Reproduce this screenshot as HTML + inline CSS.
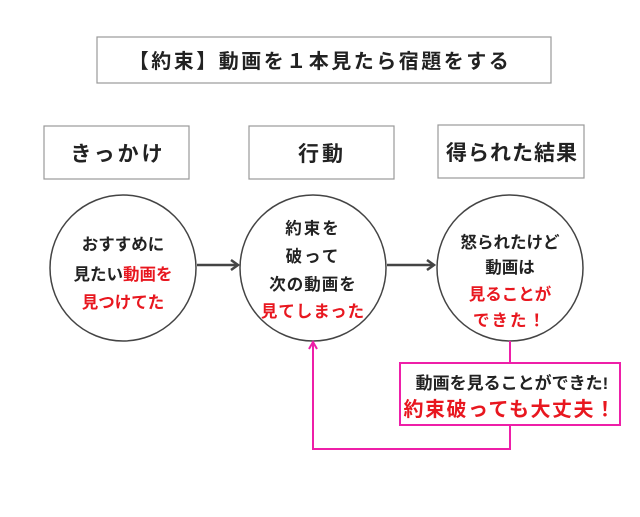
<!DOCTYPE html>
<html><head><meta charset="utf-8"><style>
body{margin:0;width:640px;height:512px;background:#fff;overflow:hidden;font-family:"Liberation Sans","Noto Sans CJK JP",sans-serif;}
</style></head><body>
<svg width="640" height="512" xmlns="http://www.w3.org/2000/svg" font-family="Liberation Sans, Noto Sans CJK JP, sans-serif" font-weight="bold" text-anchor="middle">
<rect x="97" y="37" width="454" height="46" fill="#fff" stroke="#999" stroke-width="1.2"/>
<text x="320" y="68" font-size="20" letter-spacing="2.5" fill="#222">【約束】動画を１本見たら宿題をする</text>
<g fill="#fff" stroke="#999" stroke-width="1.2">
<rect x="44" y="126" width="145" height="53"/>
<rect x="249" y="126" width="145" height="53"/>
<rect x="438" y="125" width="146" height="53"/>
</g>
<g font-size="21" fill="#222">
<text x="118" y="161" letter-spacing="3">きっかけ</text>
<text x="322" y="161" letter-spacing="3">行動</text>
<text x="512" y="160" letter-spacing="1">得られた結果</text>
</g>
<g fill="#fff" stroke="#444" stroke-width="1.5">
<ellipse cx="123" cy="268" rx="73" ry="73"/>
<ellipse cx="313" cy="268" rx="73" ry="73"/>
<ellipse cx="510" cy="268" rx="73" ry="73"/>
</g>
<g stroke="#444" stroke-width="2.5" fill="none">
<line x1="197" y1="265" x2="237" y2="265"/><polyline points="231,260 238,265 231,270"/>
<line x1="387" y1="265" x2="433" y2="265"/><polyline points="427,260 434,265 427,270"/>
</g>
<g font-size="16.5" fill="#222">
<text x="123" y="250">おすすめに</text>
<text x="123" y="280">見たい<tspan fill="#e8171f">動画を</tspan></text>
<text x="123" y="308" fill="#e8171f">見つけてた</text>
<text x="313" y="234" letter-spacing="2">約束を</text>
<text x="313" y="262" letter-spacing="2">破って</text>
<text x="313" y="290" letter-spacing="1">次の動画を</text>
<text x="313" y="317" letter-spacing="1">
<tspan fill="#e8171f">見てしまった</tspan></text>
<text x="510" y="248">怒られたけど</text>
<text x="510" y="273">動画は</text>
<text x="510" y="300" fill="#e8171f">見ることが</text>
<text x="510" y="326" fill="#e8171f" letter-spacing="2">できた！</text>
</g>
<g stroke="#ee1fa8" stroke-width="2" fill="none">
<line x1="510" y1="341" x2="510" y2="363"/>
<rect x="400" y="363" width="220" height="62" fill="#fff"/>
<polyline points="510,425 510,449 313,449 313,343"/>
<polyline points="309,349 313,342 317,349"/>
</g>
<text x="512" y="389" font-size="17" fill="#222">動画を見ることができた!</text>
<text x="510" y="416" font-size="20" letter-spacing="1.5" fill="#e8171f">約束破っても大丈夫！</text>
</svg>
</body></html>
